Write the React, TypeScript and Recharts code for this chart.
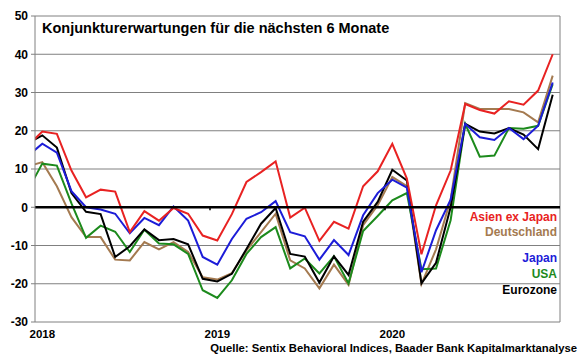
import {
  CartesianGrid,
  Line,
  LineChart,
  ReferenceLine,
  XAxis,
  YAxis,
} from "recharts";

// Dec 2017 .. Dec 2020, monthly (first point lies left of the plot and gets clipped)
const months = [
  "2017-12",
  "2018-01", "2018-02", "2018-03", "2018-04", "2018-05", "2018-06",
  "2018-07", "2018-08", "2018-09", "2018-10", "2018-11", "2018-12",
  "2019-01", "2019-02", "2019-03", "2019-04", "2019-05", "2019-06",
  "2019-07", "2019-08", "2019-09", "2019-10", "2019-11", "2019-12",
  "2020-01", "2020-02", "2020-03", "2020-04", "2020-05", "2020-06",
  "2020-07", "2020-08", "2020-09", "2020-10", "2020-11", "2020-12",
];

const asienExJapan = [
  16, 19.8, 19.2, 9.6, 2.6, 4.6, 4.1, -6.5, -1, -3.5, -0.2, -1.7, -7.4,
  -8.7, -1.8, 6.6, 9.2, 12, -2.7, -0.1, -8.8, -3.8, -5.6, 5.5, 9.4,
  16.6, 7.5, -12.3, 0.5, 9.6, 27, 25.4, 24.5, 27.7, 26.8, 30.5, 40,
];
const deutschland = [
  10.7, 11.8, 5.5, -2.6, -7.8, -7.8, -13.7, -13.9, -9.1, -11, -9.1, -11.7, -18.3,
  -18.9, -17.2, -11.3, -6.5, -1.7, -13.9, -16, -21.2, -15, -20.3, -4.7, 0.5,
  7.9, 5.5, -20.1, -11, 2, 27.2, 25.7, 25.7, 25.7, 24.8, 22.2, 34.4,
];
const japan = [
  13.4, 16.6, 14.3, 4.2, 0, -0.6, -1.7, -6.8, -2.8, -4.7, 0.2, -3.5, -13,
  -15, -8.3, -3, -1.3, 1.6, -6.5, -7.6, -13.7, -8.6, -12.5, -2.1, 3.7,
  7.2, 5.1, -17, -6, 2, 21.8, 18.3, 17.6, 20.7, 17.8, 21.3, 32.6,
];
const usa = [
  4.4, 11.4, 10.9, 1, -8, -4.8, -6.4, -11.7, -5.9, -9.5, -9.7, -12.2, -21.7,
  -23.7, -19.1, -12.2, -7.8, -5.2, -16, -13.4, -17.3, -12.8, -19.9, -6.2, -2.3,
  1.8, 3.7, -16.2, -16, -3.4, 21.8, 13.2, 13.5, 20.7, 20.5, 21.3, 32.2,
];
const eurozone = [
  16.7, 18.8, 15.6, 3.7, -1.2, -1.8, -13, -10.2, -5.8, -8.6, -8.3, -9.7, -18.7,
  -19.4, -17.4, -10.9, -4.3, -0.2, -12.2, -12.9, -19.7, -12.8, -17.7, -3.8, 1.4,
  9.8, 7, -19.9, -14.5, 0, 21.8, 19.8, 19.3, 20.7, 19, 15.2, 29.4,
];

const yTicks = [-30, -20, -10, 0, 10, 20, 30, 40, 50];
const yearStarts = ["2018-01", "2019-01", "2020-01"];

const series = [
  { key: "deutschland", label: "Deutschland", color: "#a47a50" },
  { key: "usa", label: "USA", color: "#1c8a1c" },
  { key: "eurozone", label: "Eurozone", color: "#000000" },
  { key: "japan", label: "Japan", color: "#1c1cd8" },
  { key: "asienExJapan", label: "Asien ex Japan", color: "#e82222" },
];

// index 0 = Jan 2018
const data = months.map((m, k) => ({
  i: k - 1,
  month: m,
  asienExJapan: asienExJapan[k],
  deutschland: deutschland[k],
  japan: japan[k],
  usa: usa[k],
  eurozone: eurozone[k],
}));

const xTicks = yearStarts.map((m) => months.indexOf(m) - 1);
const lastIdx = months.length - 2;

const legendRows = [
  { label: "Asien ex Japan", color: "#e82222", top: 210 },
  { label: "Deutschland", color: "#a47a50", top: 225 },
  { label: "Japan", color: "#1c1cd8", top: 251 },
  { label: "USA", color: "#1c8a1c", top: 267 },
  { label: "Eurozone", color: "#000000", top: 283 },
];

const font = "'Liberation Sans', Arial, sans-serif";

export default function App() {
  return (
    <div
      style={{
        position: "absolute",
        left: 0,
        top: 0,
        width: 580,
        height: 359,
        background: "#fff",
        fontFamily: font,
      }}
    >
      <LineChart
        width={580}
        height={359}
        data={data}
        margin={{ top: 16, right: 20, left: 0, bottom: 7 }}
      >
        <CartesianGrid vertical={false} stroke="#808080" strokeWidth={1} />
        <XAxis
          type="number"
          dataKey="i"
          domain={[-0.5, lastIdx + 0.5]}
          allowDataOverflow
          ticks={xTicks}
          tickFormatter={(v: number) => months[v + 1].slice(0, 4)}
          axisLine={false}
          tickLine={false}
          height={30}
          tick={{ fill: "#000", fontSize: 11.5, fontWeight: 700, fontFamily: font }}
        />
        <YAxis
          type="number"
          domain={[-30, 50]}
          ticks={yTicks}
          width={35}
          allowDataOverflow
          axisLine={{ stroke: "#808080" }}
          tickLine={{ stroke: "#808080" }}
          tickSize={4}
          tickMargin={3}
          tick={{ fill: "#000", fontSize: 12, fontWeight: 700, fontFamily: font }}
        />
        <ReferenceLine x={lastIdx + 0.5} stroke="#808080" />
        {series.map((s) => (
          <Line
            key={s.key}
            type="linear"
            dataKey={s.key}
            stroke={s.color}
            strokeWidth={2}
            dot={false}
            isAnimationActive={false}
          />
        ))}
        <ReferenceLine y={0} stroke="#000" strokeWidth={2.5} />
        {[11.5, 23.5].map((x) => (
          <ReferenceLine
            key={x}
            segment={[
              { x, y: 0 },
              { x, y: -0.8 },
            ]}
            stroke="#000"
            strokeWidth={1.5}
          />
        ))}
      </LineChart>
      <div
        style={{
          position: "absolute",
          left: 42,
          top: 19,
          fontSize: 14.5,
          fontWeight: 700,
          lineHeight: "18px",
          whiteSpace: "nowrap",
        }}
      >
        Konjunkturerwartungen für die nächsten 6 Monate
      </div>
      {legendRows.map((r) => (
        <div
          key={r.label}
          style={{
            position: "absolute",
            right: 23,
            top: r.top,
            fontSize: 12,
            fontWeight: 700,
            lineHeight: "15px",
            color: r.color,
            whiteSpace: "nowrap",
          }}
        >
          {r.label}
        </div>
      ))}
      <div
        style={{
          position: "absolute",
          right: 3,
          top: 341,
          fontSize: 11.3,
          fontWeight: 700,
          lineHeight: "14px",
          whiteSpace: "nowrap",
        }}
      >
        Quelle: Sentix Behavioral Indices, Baader Bank Kapitalmarktanalyse
      </div>
    </div>
  );
}
